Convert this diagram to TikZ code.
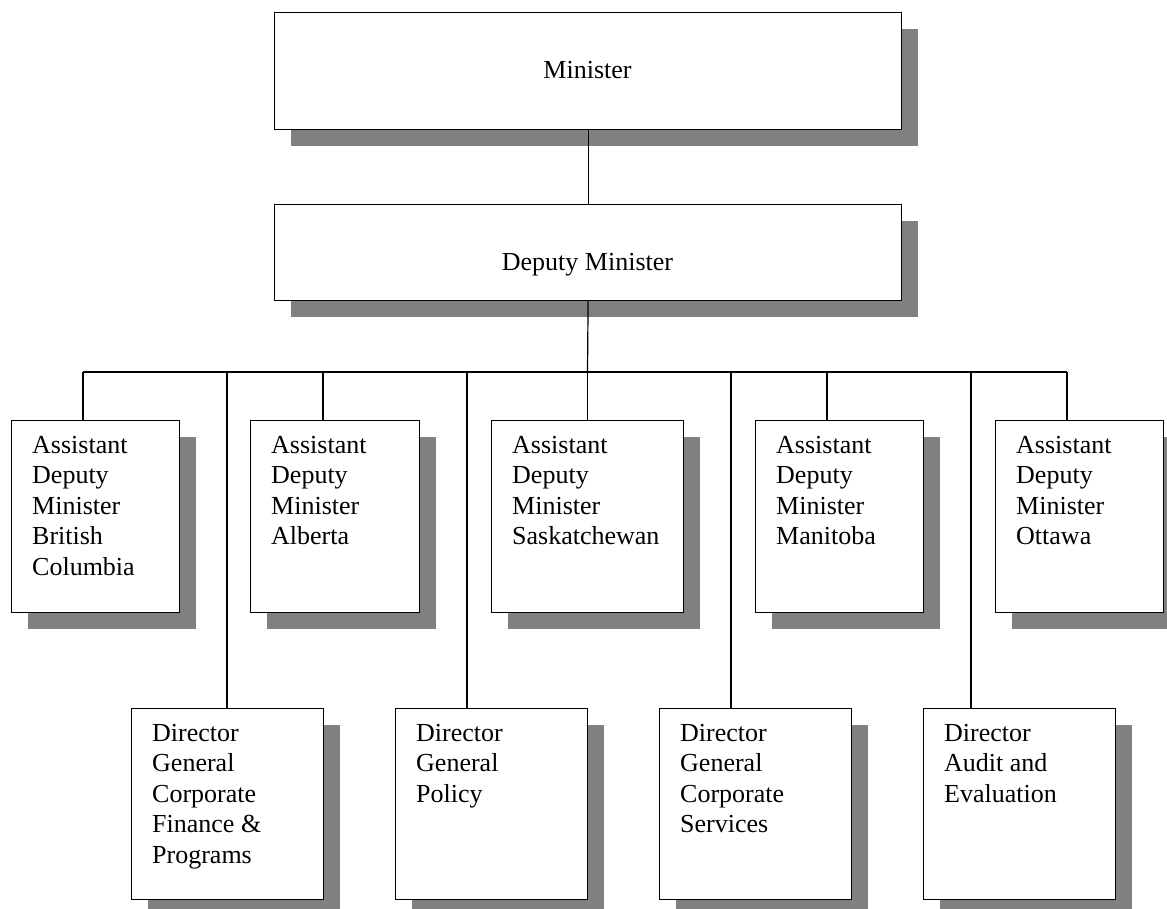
\documentclass[tikz,border=0pt]{standalone}
\usepackage{fontspec}
\setmainfont{Liberation Serif}
\usetikzlibrary{shadows}
\definecolor{shade}{HTML}{808080}

\begin{document}
\begin{tikzpicture}[x=1pt,y=-1pt,
  unit/.style={draw, line width=1.2pt, fill=white, anchor=north west, inner sep=0pt,
    drop shadow={shadow xshift=16pt, shadow yshift=-16pt, fill=shade, opacity=1}},
  boxtext/.style={anchor=north west, align=left, inner sep=0pt, font=\fontsize{26}{30.5}\selectfont},
  title/.style={inner sep=0pt, font=\fontsize{26}{30.5}\selectfont},
  link/.style={line width=1.2pt}]
  \useasboundingbox[fill=white](0,0) rectangle (1167,909);
  % top two levels
  \node[unit, minimum width=627pt, minimum height=117pt] (min) at (274,12) {};
  \node[unit, minimum width=627pt, minimum height=96pt] (dm) at (274,204) {};
  \node[title] (mint) at (587.5,70) {Minister};
  \node[title] (dmt) at (587.5,265) {Deputy Minister};
  % assistant deputy ministers
  \node[unit, minimum width=168pt, minimum height=192pt] (adm1) at (11,420) {};
  \node[unit, minimum width=169pt, minimum height=192pt] (adm2) at (250,420) {};
  \node[unit, minimum width=192pt, minimum height=192pt] (adm3) at (491,420) {};
  \node[unit, minimum width=168pt, minimum height=192pt] (adm4) at (755,420) {};
  \node[unit, minimum width=168pt, minimum height=192pt] (adm5) at (995,420) {};
  \node[boxtext] (adm1t) at ([shift={(21,16)}]adm1.north west) {Assistant\\Deputy\\Minister\\British\\Columbia};
  \node[boxtext] (adm2t) at ([shift={(21,16)}]adm2.north west) {Assistant\\Deputy\\Minister\\Alberta};
  \node[boxtext] (adm3t) at ([shift={(21,16)}]adm3.north west) {Assistant\\Deputy\\Minister\\Saskatchewan};
  \node[boxtext] (adm4t) at ([shift={(21,16)}]adm4.north west) {Assistant\\Deputy\\Minister\\Manitoba};
  \node[boxtext] (adm5t) at ([shift={(21,16)}]adm5.north west) {Assistant\\Deputy\\Minister\\Ottawa};
  % directors general
  \node[unit, minimum width=192pt, minimum height=191pt] (dg1) at (131,708) {};
  \node[unit, minimum width=192pt, minimum height=191pt] (dg2) at (395,708) {};
  \node[unit, minimum width=192pt, minimum height=191pt] (dg3) at (659,708) {};
  \node[unit, minimum width=192pt, minimum height=191pt] (dg4) at (923,708) {};
  \node[boxtext] (dg1t) at ([shift={(21,16)}]dg1.north west) {Director\\General\\Corporate\\Finance \&\\Programs};
  \node[boxtext] (dg2t) at ([shift={(21,16)}]dg2.north west) {Director\\General\\Policy};
  \node[boxtext] (dg3t) at ([shift={(21,16)}]dg3.north west) {Director\\General\\Corporate\\Services};
  \node[boxtext] (dg4t) at ([shift={(21,16)}]dg4.north west) {Director\\Audit and\\Evaluation};
  % connectors
  \coordinate (t1) at (83,372);
  \coordinate (t2) at (227,372);
  \coordinate (t3) at (323,372);
  \coordinate (t4) at (467,372);
  \coordinate (t5) at (587.5,372);
  \coordinate (t6) at (731,372);
  \coordinate (t7) at (827,372);
  \coordinate (t8) at (971,372);
  \coordinate (t9) at (1067,372);
  \draw[link] (min.south) -- (dm.north);
  \draw[link] (dm.south) -- (t5);
  \draw[link] (t1) -- (t9);
  \draw[link] (t1) -- (t1 |- adm1.north);
  \draw[link] (t3) -- (t3 |- adm2.north);
  \draw[link] (t5) -- (t5 |- adm3.north);
  \draw[link] (t7) -- (t7 |- adm4.north);
  \draw[link] (t9) -- (t9 |- adm5.north);
  \draw[link] (t2) -- (t2 |- dg1.north);
  \draw[link] (t4) -- (t4 |- dg2.north);
  \draw[link] (t6) -- (t6 |- dg3.north);
  \draw[link] (t8) -- (t8 |- dg4.north);
\end{tikzpicture}
\end{document}
